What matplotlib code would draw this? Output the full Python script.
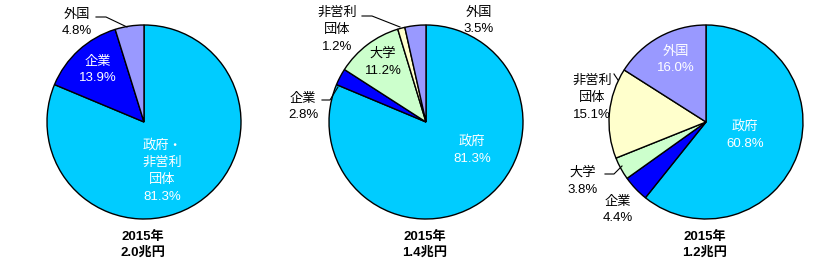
import matplotlib
matplotlib.use("Agg")
import matplotlib.pyplot as plt

plt.rcParams['font.family'] = ['Liberation Sans', 'Noto Sans CJK JP', 'DejaVu Sans']

# ---- data ----
labels1 = ["政府・\n非営利\n団体", "企業", "外国"]
values1 = [81.3, 13.9, 4.8]
labels2 = ["政府", "企業", "大学", "非営利\n団体", "外国"]
values2 = [81.3, 2.8, 11.2, 1.2, 3.5]
labels3 = ["政府", "企業", "大学", "非営利\n団体", "外国"]
values3 = [60.8, 4.4, 3.8, 15.1, 16.0]
titles = ["2015年\n2.0兆円", "2015年\n1.4兆円", "2015年\n1.2兆円"]

colors = {"政府": "#00CCFF", "企業": "#0000FF", "大学": "#CCFFCC",
          "非営利": "#FFFFCC", "外国": "#9999FF"}

def col(lbl):
    if lbl.startswith("政府"):
        return colors["政府"]
    if lbl.startswith("非営利"):
        return colors["非営利"]
    return colors[lbl]

W, H = 840, 270
fig = plt.figure(figsize=(8.4, 2.7), dpi=100)
ax = fig.add_axes([0, 0, 1, 1])

R = 97
centers = [(144, H - 122), (426, H - 122), (706, H - 122)]
datasets = [(labels1, values1), (labels2, values2), (labels3, values3)]

for (cx, cy), (labs, vals) in zip(centers, datasets):
    ax.pie(vals, colors=[col(l) for l in labs], startangle=90, counterclock=False,
           center=(cx, cy), radius=R, frame=True,
           wedgeprops=dict(edgecolor='black', linewidth=1.0))

ax.set_xlim(0, W)
ax.set_ylim(0, H)
ax.set_aspect('equal')
ax.axis('off')

fs = 9.5
def txt(x, y, s, color='black', ls=1.55, **kw):
    ax.text(x, H - y, s, ha='center', va='center', fontsize=fs, color=color,
            linespacing=ls, **kw)

def pct(v):
    return f"{v:.1f}%"

# pie 1
txt(77, 23, labels1[2] + "\n" + pct(values1[2]))
txt(98, 70, labels1[1] + "\n" + pct(values1[1]), color='white')
txt(162, 171, labels1[0] + "\n" + pct(values1[0]), color='white')
ax.plot([96, 106, 127], [H - 17, H - 17, H - 27], color='black', lw=0.8)

# pie 2
txt(337, 30, labels2[3] + "\n" + pct(values2[3]))
txt(383, 62, labels2[2] + "\n" + pct(values2[2]))
txt(303, 107, labels2[1] + "\n" + pct(values2[1]))
txt(479, 21, labels2[4] + "\n" + pct(values2[4]))
txt(472, 150, labels2[0] + "\n" + pct(values2[0]), color='white')
ax.plot([362, 372, 400], [H - 16, H - 16, H - 27], color='black', lw=0.8)
ax.plot([322, 330, 338], [H - 100, H - 100, H - 87], color='black', lw=0.8)

# pie 3
txt(676, 60, labels3[4] + "\n" + pct(values3[4]), color='white')
txt(592, 98, labels3[3] + "\n" + pct(values3[3]))
txt(583, 181, labels3[2] + "\n" + pct(values3[2]))
txt(618, 210, labels3[1] + "\n" + pct(values3[1]))
txt(745, 135, labels3[0] + "\n" + pct(values3[0]), color='white')
ax.plot([605, 614, 622], [H - 174, H - 174, H - 166], color='black', lw=0.8)
ax.plot([614, 618], [H - 74, H - 80], color='black', lw=0.8)

# titles
for (cx, cy), t in zip(centers, titles):
    txt(cx - 1, 245, t, fontweight='bold', ls=1.4)

fig.savefig("out.png", dpi=100, facecolor='white')
